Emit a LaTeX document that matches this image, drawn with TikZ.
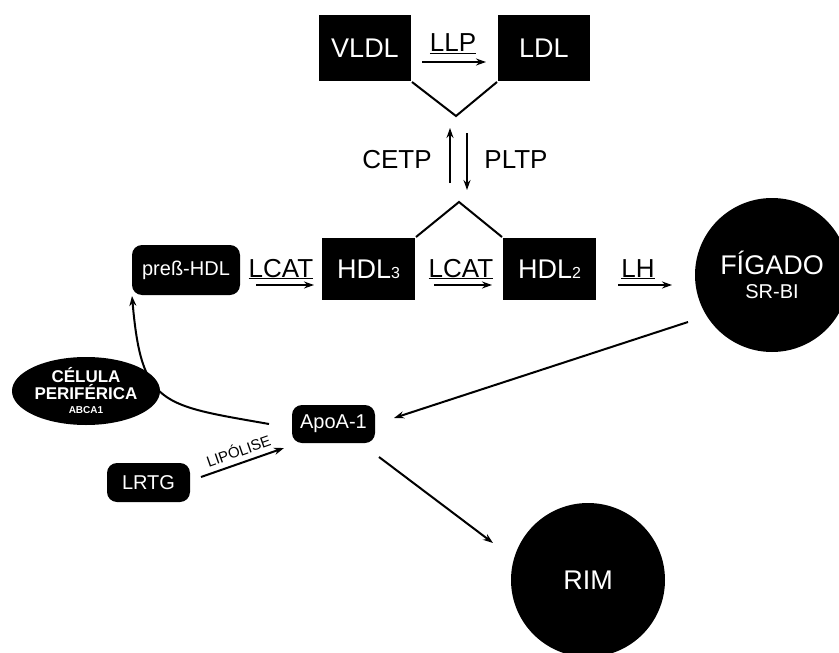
\documentclass[tikz,border=0pt]{standalone}
\usepackage{fontspec}
\setmainfont{Liberation Sans}
\usetikzlibrary{arrows.meta, positioning, shapes.geometric}

\begin{document}
\begin{tikzpicture}[x=1pt, y=-1pt, line width=2pt]
	\tikzset {>={Stealth[length=10pt, width=7pt]},
		blk/.style={fill=black, text=white, minimum width=92pt, minimum height=66pt, inner sep=0pt, font=\fontsize{27}{27}\selectfont},
		rblk/.style={fill=black, text=white, rounded corners=10pt, inner sep=0pt, font=\fontsize{20}{20}\selectfont},
		orgao/.style={circle, fill=black, text=white, minimum size=154pt, inner sep=0pt, align=center, font=\fontsize{27}{27}\selectfont},
		lbl/.style={anchor=base, inner sep=0pt, font=\fontsize{26}{26}\selectfont} }
	\useasboundingbox (0,0) rectangle (839,653);

	\node[blk] (vldl) at (365,48) {VLDL};
	\node[blk] (ldl) at (544,48) {LDL};
	\node[rblk, minimum width=108pt, minimum height=50pt] (pre) at (186,270) {preß-HDL};
	\node[blk, minimum width=93pt, minimum height=62pt] (hdl3) at (368.5,269) {HDL{\fontsize{16}{16}\selectfont 3}};
	\node[blk, minimum width=93pt, minimum height=62pt] (hdl2) at (549.5,269) {HDL{\fontsize{16}{16}\selectfont 2}};
	\node[orgao] (figado) at (772,275) {FÍGADO\\[-3pt]{\fontsize{20}{20}\selectfont SR-BI}};
	\node[orgao] (rim) at (588,580) {RIM};
	\node[rblk, minimum width=83pt, minimum height=38pt] (apo) at (333.5,424) {ApoA-1};
	\node[rblk, minimum width=83pt, minimum height=39pt] (lrtg) at (148.5,482.5) {LRTG};
	\node[ellipse, fill=black, text=white, minimum width=148pt, minimum height=68pt, inner sep=0pt, align=center, font=\bfseries\fontsize{17}{17}\selectfont] (celula) at (86,391) {CÉLULA\\PERIFÉRICA\\[-3pt]{\fontsize{10}{10}\selectfont ABCA1}};

	\coordinate (vtop) at (456,116);
	\coordinate (vbot) at (459,202);
	\draw (vldl.south east) -- (vtop) -- (ldl.south west);
	\draw (hdl3.north east) -- (vbot) -- (hdl2.north west);

	\node[lbl] (llp) at (453,52) {\underline{LLP}};
	\node[lbl] (cetp) at (397,168) {CETP};
	\node[lbl] (pltp) at (516,168) {PLTP};
	\node[lbl] (lcat1) at (281,277) {\underline{LCAT}};
	\node[lbl] (lcat2) at (461,277) {\underline{LCAT}};
	\node[lbl] (lh) at (638,277) {\underline{LH}};

	\draw[->] ([shift={(10,14)}]vldl.east) -- ([shift={(-11,14)}]ldl.west);
	\draw[->] ([shift={(-9,-19)}]vbot) -- ([shift={(-6,12)}]vtop);
	\draw[->] ([shift={(11,17)}]vtop) -- ([shift={(8,-12)}]vbot);
	\draw[->] ([shift={(15,15)}]pre.east) -- ([shift={(-7,16)}]hdl3.west);
	\draw[->] ([shift={(18,16)}]hdl3.east) -- ([shift={(-10,16)}]hdl2.west);
	\draw[->] ([shift={(21,16)}]hdl2.east) -- ([shift={(-22,10)}]figado.west);
	\draw[->] ([shift={(-84,47)}]figado.center) -- ([shift={(18,-6)}]apo.east);
	\draw[->] ([shift={(3,13)}]apo.south east) -- ([shift={(-17,-37)}]rim.west);
	\draw[->] ([shift={(10,-5.5)}]lrtg.east) -- ([shift={(-7,24)}]apo.west)
		node[midway, above=2pt, sloped, font=\fontsize{15}{15}\selectfont] {LIPÓLISE};
	\draw[->] ([xshift=-22]apo.west) to[out=170, in=-85, looseness=1.5] ([xshift=-54]pre.south);
\end{tikzpicture}
\end{document}
